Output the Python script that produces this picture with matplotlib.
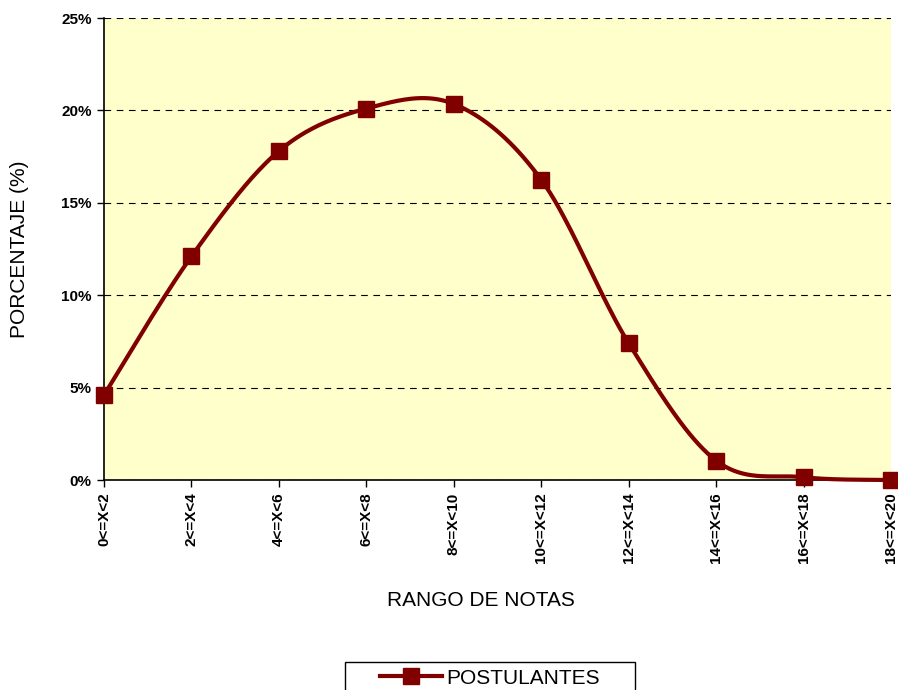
import matplotlib.pyplot as plt
import numpy as np
from matplotlib.patches import Rectangle
from matplotlib.lines import Line2D
from matplotlib.ticker import PercentFormatter

plt.rcParams['font.family'] = ['Liberation Sans', 'DejaVu Sans']

rangos = ['0<=X<2', '2<=X<4', '4<=X<6', '6<=X<8', '8<=X<10',
          '10<=X<12', '12<=X<14', '14<=X<16', '16<=X<18', '18<=X<20']
postulantes = [4.6, 12.1, 17.8, 20.1, 20.35, 16.25, 7.4, 1.05, 0.15, 0.0]

color = '#800000'


def excel_smooth(x, y, n=40):
    # bezier through the points, control points like excel's smoothed line
    x = np.asarray(x, float)
    y = np.asarray(y, float)
    px = np.concatenate([[x[0]], x, [x[-1]]])
    py = np.concatenate([[y[0]], y, [y[-1]]])
    t = np.linspace(0, 1, n)
    xs, ys = [], []
    for i in range(1, len(px) - 2):
        p0 = np.array([px[i], py[i]])
        p3 = np.array([px[i + 1], py[i + 1]])
        p1 = p0 + (np.array([px[i + 1], py[i + 1]]) - np.array([px[i - 1], py[i - 1]])) / 6
        p2 = p3 - (np.array([px[i + 2], py[i + 2]]) - np.array([px[i], py[i]])) / 6
        b = ((1 - t) ** 3)[:, None] * p0 + (3 * (1 - t) ** 2 * t)[:, None] * p1 \
            + (3 * (1 - t) * t ** 2)[:, None] * p2 + (t ** 3)[:, None] * p3
        xs.append(b[:, 0])
        ys.append(b[:, 1])
    return np.concatenate(xs), np.concatenate(ys)


fig = plt.figure(figsize=(8.98, 6.9), dpi=100)
ax = fig.add_axes([104 / 898, 1 - 480 / 690, 787 / 898, 462 / 690])
ax.set_facecolor('#FFFFCC')

xi = np.arange(len(rangos))
sx, sy = excel_smooth(xi, postulantes)
ax.plot(sx, sy, color=color, lw=3, clip_on=False, zorder=3)
ax.plot(xi, postulantes, ls='none', marker='s', ms=11, color=color,
        clip_on=False, zorder=4)

ax.set_xlim(0, len(rangos) - 1)
ax.set_ylim(0, 25)
ax.set_yticks([0, 5, 10, 15, 20, 25])
ax.yaxis.set_major_formatter(PercentFormatter(decimals=0))
ax.set_xticks(xi)
ax.set_xticklabels(rangos, rotation=90, fontweight='bold', fontsize=11)
for lab in ax.get_yticklabels():
    lab.set_fontweight('bold')
    lab.set_fontsize(11)
ax.tick_params(direction='out', length=5, width=1, pad=4)
ax.grid(axis='y', color='black', ls=(0, (6, 5)), lw=0.8)
for s in ['top', 'right']:
    ax.spines[s].set_visible(False)
ax.spines['left'].set_linewidth(1.2)
ax.spines['bottom'].set_linewidth(1.2)

ax.set_ylabel('PORCENTAJE (%)', fontsize=15, labelpad=23)
fig.text(481 / 898, 1 - 601 / 690, 'RANGO DE NOTAS', fontsize=15,
         ha='center', va='center')

# legend box (cut by the bottom of the picture)
fig.patches.append(Rectangle((345 / 898, -0.05), 290 / 898, 0.05 + 28 / 690,
                             transform=fig.transFigure, fill=False,
                             edgecolor='black', lw=1))
handle = Line2D([], [], color=color, lw=3, marker='s', ms=11)
fig.legend([handle], ['POSTULANTES'], loc='center',
           bbox_to_anchor=(490 / 898, 1 - 678 / 690), frameon=False,
           fontsize=15, handlelength=3.0, handletextpad=0.2)

fig.savefig('out.png', dpi=100)
